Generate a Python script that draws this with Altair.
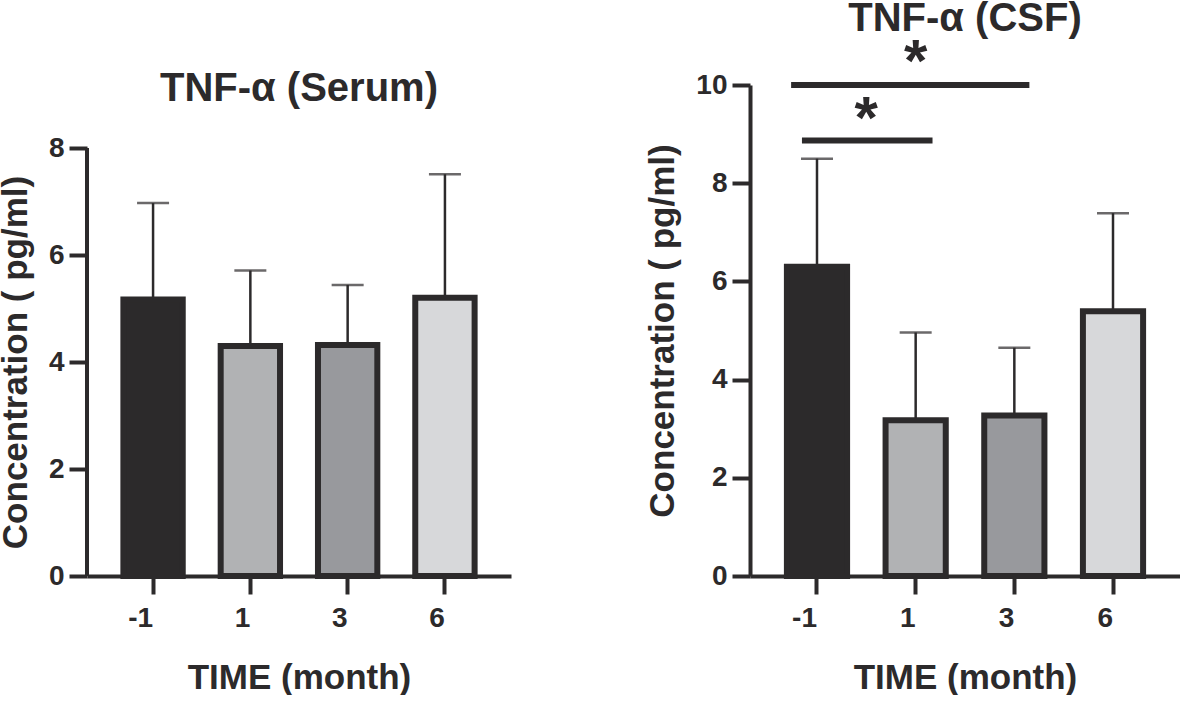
import altair as alt
import pandas as pd

# ---- data ----
months = ["-1", "1", "3", "6"]
serum_mean = [5.17, 4.30, 4.32, 5.20]
serum_upper = [6.97, 5.71, 5.44, 7.51]
csf_mean = [6.30, 3.17, 3.27, 5.39]
csf_upper = [8.50, 4.96, 4.65, 7.39]
bar_colors = ["#2c2a2b", "#b1b2b4", "#98999d", "#d7d8da"]

serum_ticks = [0, 2, 4, 6, 8]
csf_ticks = [0, 2, 4, 6, 8, 10]

# significance brackets (CSF panel)
sig_from = ["-1", "-1"]
sig_to = ["1", "3"]
sig_y = [8.87, 10.0]
star_at = ["-1", "1"]
star_y = [9.49, 10.66]
star_text = ["*", "*"]

INK = "#2c2a2b"
FONT = "Liberation Sans"
PLOT_H = 491
SERUM_PX = 53.5  # pixels per unit on the serum axis


def panel(means, uppers, ticks, dom_max, width, title, title_offset, draw_domain, title_y=None):
    df = pd.DataFrame({"month": months, "mean": means, "upper": uppers, "color": bar_colors})
    xenc = alt.X(
        "month:N",
        sort=months,
        scale=alt.Scale(paddingInner=0.39, paddingOuter=0.374),
        axis=alt.Axis(title="TIME (month)", labelAngle=0, labelPadding=24, titlePadding=28),
    )
    yaxis_kw = dict(values=ticks, title="Concentration ( pg/ml)", domain=draw_domain,
                    labelPadding=5, titlePadding=15, format="d")
    if title_y is not None:
        yaxis_kw["titleY"] = title_y
    yenc = alt.Y(
        "mean:Q",
        scale=alt.Scale(domain=[0, dom_max], nice=False, zero=True),
        axis=alt.Axis(**yaxis_kw),
    )
    err = alt.Chart(df).mark_rule(color=INK, strokeWidth=2.5).encode(
        x=alt.X("month:N", sort=months), y="mean:Q", y2="upper:Q"
    )
    bars = alt.Chart(df).mark_bar(stroke=INK, strokeWidth=6).encode(
        x=xenc, y=yenc, color=alt.Color("color:N", scale=None)
    )
    cap = alt.Chart(df).mark_tick(color=INK, size=32, thickness=2.5).encode(
        x=alt.X("month:N", sort=months), y="upper:Q"
    )
    layers = [err, bars, cap]
    if not draw_domain:
        axis_line = alt.Chart(pd.DataFrame({"lo": [ticks[0]], "hi": [ticks[-1]]})).mark_rule(
            color=INK, strokeWidth=4
        ).encode(x=alt.value(0), y="lo:Q", y2="hi:Q")
        layers.append(axis_line)
    return alt.layer(*layers).properties(
        width=width,
        height=PLOT_H,
        title=alt.TitleParams(title, anchor="middle", frame="group", baseline="alphabetic",
                              offset=title_offset, fontSize=40, font=FONT, fontWeight="bold",
                              color=INK),
    )


serum_top = PLOT_H / SERUM_PX
left = panel(serum_mean, serum_upper, serum_ticks, serum_top, 424,
             "TNF-α (Serum)", -56, False,
             title_y=PLOT_H - serum_ticks[-1] * SERUM_PX / 2)

right_base = panel(csf_mean, csf_upper, csf_ticks, 10, 430, "TNF-α (CSF)", -38, True)

sig_df = pd.DataFrame({"a": sig_from, "b": sig_to, "y": sig_y})
star_df = pd.DataFrame({"at": star_at, "y": star_y, "t": star_text})

line_low = alt.Chart(sig_df.iloc[[0]]).mark_rule(color=INK, strokeWidth=6).encode(
    x=alt.X("a:N", sort=months, bandPosition=0.25), x2=alt.X2("b:N", bandPosition=0.78), y="y:Q"
)
line_high = alt.Chart(sig_df.iloc[[1]]).mark_rule(color=INK, strokeWidth=6).encode(
    x=alt.X("a:N", sort=months, bandPosition=0.07), x2=alt.X2("b:N", bandPosition=0.75), y="y:Q"
)
star_low = alt.Chart(star_df.iloc[[0]]).mark_text(
    font=FONT, fontWeight="bold", fontSize=60, color=INK, baseline="alphabetic", dy=28, dx=19
).encode(x=alt.X("at:N", sort=months, bandPosition=1.0), y="y:Q", text="t:N")
star_high = alt.Chart(star_df.iloc[[1]]).mark_text(
    font=FONT, fontWeight="bold", fontSize=60, color=INK, baseline="alphabetic", dy=28
).encode(x=alt.X("at:N", sort=months, bandPosition=0.5), y="y:Q", text="t:N")

right = alt.layer(right_base, line_low, line_high, star_low, star_high)

chart = alt.hconcat(left, right, spacing=239, bounds="flush").properties(
    padding={"left": -2, "top": -2, "right": 0, "bottom": 0},
    background="white",
).configure_view(stroke=None).configure_axis(
    grid=False,
    labelFont=FONT, labelFontSize=28, labelFontWeight="bold", labelColor=INK,
    titleFont=FONT, titleFontSize=35, titleFontWeight="bold", titleColor=INK,
    domainColor=INK, domainWidth=4, tickColor=INK, tickWidth=4, tickSize=18,
)

chart.save("out.html", embed_options={"renderer": "svg", "actions": False})
